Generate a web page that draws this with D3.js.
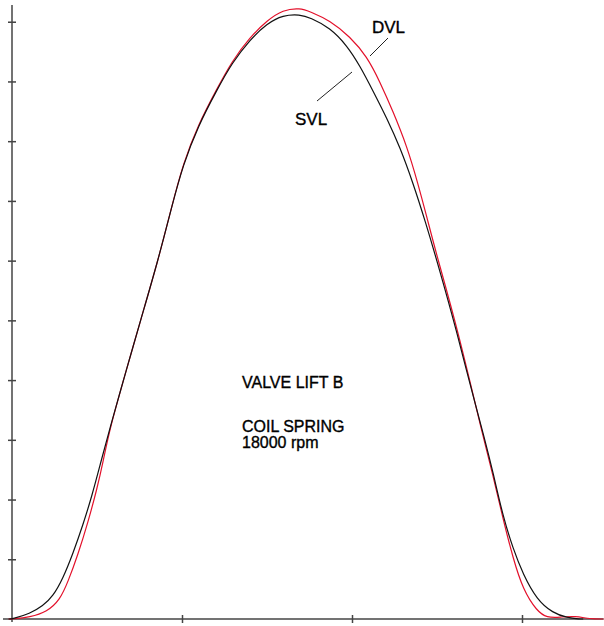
<!DOCTYPE html>
<html>
<head>
<meta charset="utf-8">
<script src="https://cdn.jsdelivr.net/npm/d3@7"></script>
<style>
  body { margin: 0; background: #fff; }
  svg { display: block; }
  .axis path, .axis line { stroke: #444; stroke-width: 1.5; }
  text { font-family: "Liberation Sans", Arial, sans-serif; fill: #000; stroke: #000; stroke-width: 0.35px; }
</style>
</head>
<body>
<svg width="604" height="626"></svg>
<script>
// cam angle (deg) vs lift (mm)
var svlAngle = [-2, 0, 10.6, 18.2, 24.1, 30, 35.9, 41.8, 47.1, 52, 57.6, 67.6, 75.3, 85.9, 94.1, 100.6, 109.4, 120.6, 129.4, 140, 150, 159.4, 169.4, 175.3, 187.1, 197.1, 204.7, 212.4, 220.6, 228.2, 235.9, 242.9, 251.8, 261.8, 269.4, 278.2, 283, 288.8, 294.7, 300.6, 308.8, 318.2, 326.5, 334, 336];
var svlLift  = [0, 0, 0.09, 0.22, 0.38, 0.68, 1.10, 1.58, 2.07, 2.60, 3.20, 4.20, 4.97, 6.00, 6.92, 7.60, 8.25, 8.86, 9.31, 9.70, 9.97, 10.11, 10.12, 10.07, 9.90, 9.60, 9.26, 8.84, 8.38, 7.90, 7.30, 6.68, 5.82, 4.79, 3.93, 3.00, 2.45, 1.72, 1.18, 0.75, 0.32, 0.10, 0.02, 0, 0];

var dvlAngle = [-2, 0, 10.6, 20.6, 28.2, 32.9, 38.8, 44.7, 50, 53.5, 57.6, 67.6, 75.3, 85.9, 94.1, 100.6, 109.4, 120.6, 129.4, 140, 150, 159.4, 169.4, 175.3, 187.1, 198.8, 208.8, 216.5, 224.1, 232.4, 238.8, 244.1, 250, 261.8, 277.1, 283, 288.8, 294.7, 300.6, 308.8, 314.7, 322.4, 331.2, 340, 348];
var dvlLift  = [0, 0, 0.03, 0.12, 0.32, 0.62, 1.08, 1.62, 2.18, 2.62, 3.20, 4.20, 4.97, 6.00, 6.92, 7.62, 8.27, 8.88, 9.34, 9.74, 10.02, 10.20, 10.23, 10.17, 10.02, 9.75, 9.42, 8.99, 8.50, 7.91, 7.29, 6.72, 6.07, 4.89, 3.05, 2.40, 1.68, 1.02, 0.49, 0.13, 0.02, 0.03, 0.05, 0, 0];

var yTicks = [0, 1, 2, 3, 4, 5, 6, 7, 8, 9, 10];
var xTicks = [0, 100, 200, 300];

var svg = d3.select("svg");

var x = d3.scaleLinear().domain([0, 348]).range([12, 603.6]);
var y = d3.scaleLinear().domain([0, 10.28]).range([619, 5]);

// left axis, ticks crossing the line
var yAxis = svg.append("g")
    .attr("class", "axis")
    .attr("transform", "translate(" + x(0) + ",0)")
    .call(d3.axisLeft(y).tickValues(yTicks.slice(1)).tickSize(4).tickFormat(""));
yAxis.select(".domain").remove();
yAxis.selectAll(".tick line").attr("x1", -4).attr("x2", 4);
yAxis.append("line")
    .attr("x1", 0).attr("x2", 0)
    .attr("y1", y.range()[1]).attr("y2", y(0) + 3)
    .attr("stroke", "#444").attr("stroke-width", 1.5);

// bottom axis
var xAxis = svg.append("g")
    .attr("class", "axis")
    .attr("transform", "translate(0," + y(0) + ")")
    .call(d3.axisBottom(x).tickValues(xTicks.slice(1)).tickSize(4).tickFormat(""));
xAxis.select(".domain").remove();
xAxis.selectAll(".tick line").attr("y1", -4).attr("y2", 4);
xAxis.append("line")
    .attr("x1", x(-5.3)).attr("x2", x(348))
    .attr("y1", 0).attr("y2", 0)
    .attr("stroke", "#444").attr("stroke-width", 1.5);

var line = d3.line()
    .x(function (d) { return x(d[0]); })
    .y(function (d) { return y(d[1]); })
    .curve(d3.curveBasis);

svg.append("path")
    .datum(d3.zip(dvlAngle, dvlLift))
    .attr("fill", "none")
    .attr("stroke", "#e3102a")
    .attr("stroke-width", 1.2)
    .attr("d", line);

svg.append("path")
    .datum(d3.zip(svlAngle, svlLift))
    .attr("fill", "none")
    .attr("stroke", "#111")
    .attr("stroke-width", 1.2)
    .attr("d", line);

// labels with leader lines
svg.append("line")
    .attr("x1", 388).attr("y1", 38).attr("x2", 370).attr("y2", 56)
    .attr("stroke", "#222").attr("stroke-width", 1);
svg.append("line")
    .attr("x1", 352).attr("y1", 72).attr("x2", 317).attr("y2", 101)
    .attr("stroke", "#222").attr("stroke-width", 1);

svg.append("text").attr("x", 372).attr("y", 33)
    .style("font-size", "17px").text("DVL");
svg.append("text").attr("x", 295).attr("y", 125)
    .style("font-size", "17px").text("SVL");

var notes = ["VALVE LIFT B", "COIL SPRING", "18000 rpm"];
var noteY = [388, 432, 448];
svg.selectAll("text.note")
    .data(notes)
    .enter().append("text")
    .attr("class", "note")
    .attr("x", 242)
    .attr("y", function (d, i) { return noteY[i]; })
    .style("font-size", "16px")
    .text(function (d) { return d; });
</script>
</body>
</html>
